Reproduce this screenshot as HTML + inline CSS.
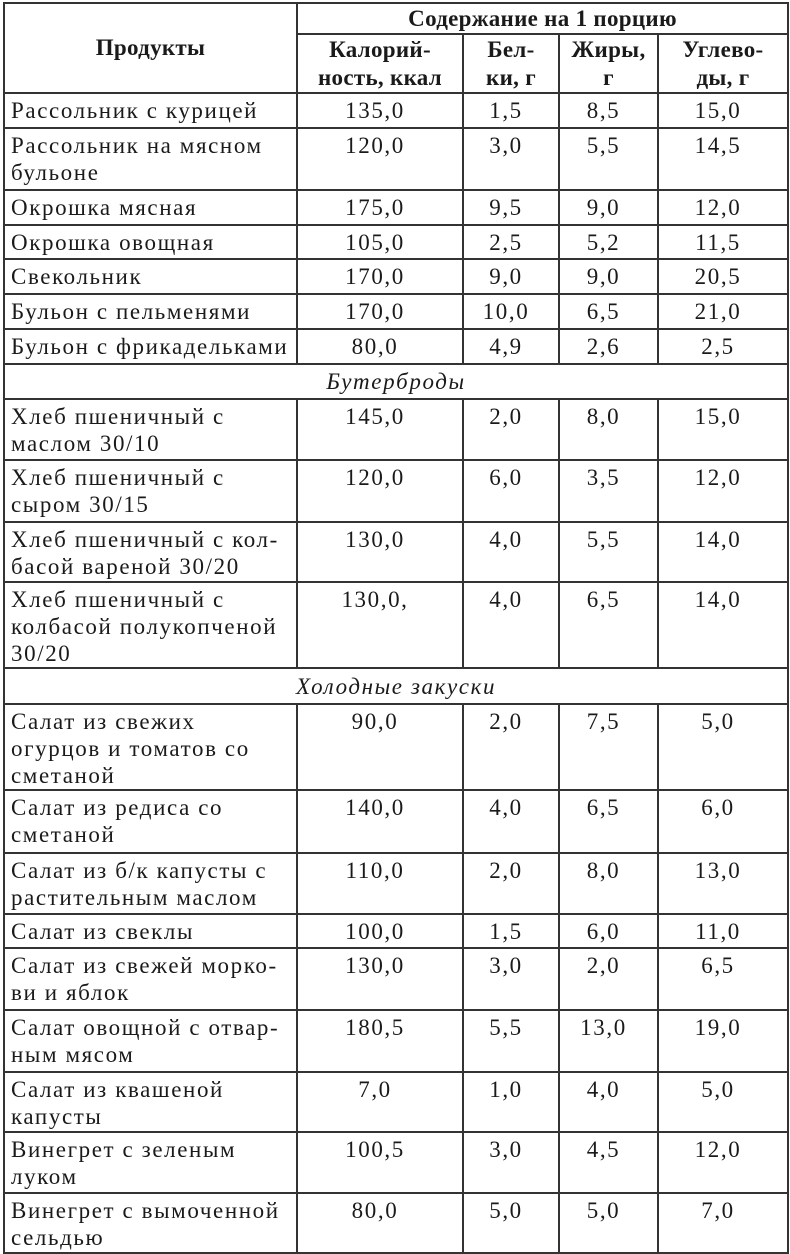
<!DOCTYPE html>
<html><head><meta charset="utf-8"><style>
html,body{margin:0;padding:0;background:#fff;width:790px;height:1253px;overflow:hidden}
table{position:absolute;left:3px;top:2px;border-collapse:collapse;width:784px;table-layout:fixed;
font-family:"Liberation Serif","DejaVu Serif",serif;font-size:23px;color:#1a1a1a;letter-spacing:1.6px}
td,th{border:2px solid #333;padding:0 6px;vertical-align:top;line-height:27px;box-sizing:border-box;white-space:nowrap;overflow:hidden}
td{padding-top:3px}
td.n{text-align:center;padding-left:0;padding-right:10px}
th{font-weight:bold;font-size:23px;letter-spacing:0.3px;vertical-align:middle;text-align:center;line-height:28px}
td.s{text-align:center;font-style:italic;vertical-align:middle;padding:0}
</style></head><body>
<table>
<colgroup><col style="width:293px"><col style="width:166px"><col style="width:96px"><col style="width:99px"><col style="width:130px"></colgroup>
<tr style="height:31px"><th rowspan="2">Продукты</th><th colspan="4">Содержание на 1 порцию</th></tr>
<tr style="height:59px"><th>Калорий-<br>ность, ккал</th><th>Бел-<br>ки, г</th><th>Жиры,<br>г</th><th>Углево-<br>ды, г</th></tr>
<tr style="height:35px"><td>Рассольник с курицей</td><td class="n">135,0</td><td class="n">1,5</td><td class="n">8,5</td><td class="n">15,0</td></tr>
<tr style="height:62px"><td>Рассольник на мясном<br>бульоне</td><td class="n">120,0</td><td class="n">3,0</td><td class="n">5,5</td><td class="n">14,5</td></tr>
<tr style="height:35px"><td>Окрошка мясная</td><td class="n">175,0</td><td class="n">9,5</td><td class="n">9,0</td><td class="n">12,0</td></tr>
<tr style="height:34px"><td>Окрошка овощная</td><td class="n">105,0</td><td class="n">2,5</td><td class="n">5,2</td><td class="n">11,5</td></tr>
<tr style="height:35px"><td>Свекольник</td><td class="n">170,0</td><td class="n">9,0</td><td class="n">9,0</td><td class="n">20,5</td></tr>
<tr style="height:35px"><td>Бульон с пельменями</td><td class="n">170,0</td><td class="n">10,0</td><td class="n">6,5</td><td class="n">21,0</td></tr>
<tr style="height:35px"><td>Бульон с фрикадельками</td><td class="n">80,0</td><td class="n">4,9</td><td class="n">2,6</td><td class="n">2,5</td></tr>
<tr style="height:35px"><td colspan="5" class="s">Бутерброды</td></tr>
<tr style="height:61px"><td>Хлеб пшеничный с<br>маслом 30/10</td><td class="n">145,0</td><td class="n">2,0</td><td class="n">8,0</td><td class="n">15,0</td></tr>
<tr style="height:62px"><td>Хлеб пшеничный с<br>сыром 30/15</td><td class="n">120,0</td><td class="n">6,0</td><td class="n">3,5</td><td class="n">12,0</td></tr>
<tr style="height:60px"><td>Хлеб пшеничный с кол-<br>басой вареной 30/20</td><td class="n">130,0</td><td class="n">4,0</td><td class="n">5,5</td><td class="n">14,0</td></tr>
<tr style="height:86px"><td>Хлеб пшеничный с<br>колбасой полукопченой<br>30/20</td><td class="n">130,0,</td><td class="n">4,0</td><td class="n">6,5</td><td class="n">14,0</td></tr>
<tr style="height:36px"><td colspan="5" class="s">Холодные закуски</td></tr>
<tr style="height:86px"><td>Салат из свежих<br>огурцов и томатов со<br>сметаной</td><td class="n">90,0</td><td class="n">2,0</td><td class="n">7,5</td><td class="n">5,0</td></tr>
<tr style="height:63px"><td>Салат из редиса со<br>сметаной</td><td class="n">140,0</td><td class="n">4,0</td><td class="n">6,5</td><td class="n">6,0</td></tr>
<tr style="height:61px"><td>Салат из б/к капусты с<br>растительным маслом</td><td class="n">110,0</td><td class="n">2,0</td><td class="n">8,0</td><td class="n">13,0</td></tr>
<tr style="height:34px"><td>Салат из свеклы</td><td class="n">100,0</td><td class="n">1,5</td><td class="n">6,0</td><td class="n">11,0</td></tr>
<tr style="height:62px"><td>Салат из свежей морко-<br>ви и яблок</td><td class="n">130,0</td><td class="n">3,0</td><td class="n">2,0</td><td class="n">6,5</td></tr>
<tr style="height:62px"><td>Салат овощной с отвар-<br>ным мясом</td><td class="n">180,5</td><td class="n">5,5</td><td class="n">13,0</td><td class="n">19,0</td></tr>
<tr style="height:60px"><td>Салат из квашеной<br>капусты</td><td class="n">7,0</td><td class="n">1,0</td><td class="n">4,0</td><td class="n">5,0</td></tr>
<tr style="height:61px"><td>Винегрет с зеленым<br>луком</td><td class="n">100,5</td><td class="n">3,0</td><td class="n">4,5</td><td class="n">12,0</td></tr>
<tr style="height:60px"><td>Винегрет с вымоченной<br>сельдью</td><td class="n">80,0</td><td class="n">5,0</td><td class="n">5,0</td><td class="n">7,0</td></tr>
</table>
</body></html>
